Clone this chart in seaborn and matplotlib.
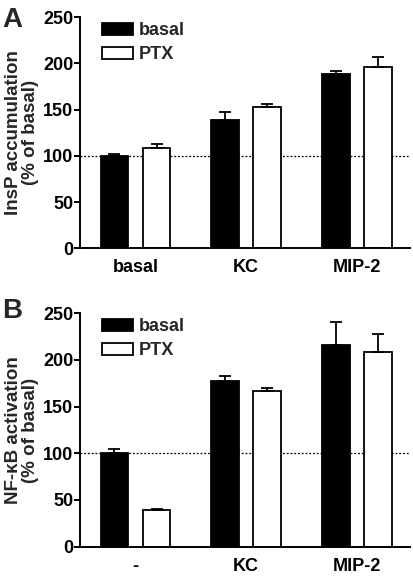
import numpy as np
import pandas as pd
import matplotlib
matplotlib.use("Agg")
import matplotlib.pyplot as plt
import seaborn as sns

sns.set_theme(style="ticks")
plt.rcParams['font.family'] = ['Liberation Sans', 'DejaVu Sans']
plt.rcParams['font.weight'] = 'bold'

# data
groups = ["basal", "PTX"]

cats_a = ["basal", "KC", "MIP-2"]
insp_basal = [100, 139, 189]
insp_ptx = [109, 153, 196]
insp_basal_sem = [1.5, 8.5, 2.7]
insp_ptx_sem = [4.0, 3.5, 11.5]

cats_b = ["-", "KC", "MIP-2"]
nfkb_basal = [100, 178, 216]
nfkb_ptx = [39, 167, 209]
nfkb_basal_sem = [5.0, 5.0, 25.0]
nfkb_ptx_sem = [1.2, 3.0, 18.5]


def make_df(cats, v1, v2):
    return pd.DataFrame({
        "cat": cats * 2,
        "grp": [groups[0]] * len(cats) + [groups[1]] * len(cats),
        "val": list(v1) + list(v2),
    })


def draw(ax, cats, v1, v2, e1, e2, ylabel, letter_y, letter):
    df = make_df(cats, v1, v2)
    sns.barplot(data=df, x="cat", y="val", hue="grp", order=cats,
                hue_order=groups, palette=["black", "white"],
                edgecolor="black", linewidth=1.3, width=0.76, gap=0.34,
                errorbar=None, ax=ax)
    # upward-only error bars
    for cont, errs in zip(ax.containers, [e1, e2]):
        for bar, e in zip(cont, errs):
            xc = bar.get_x() + bar.get_width() / 2
            h = bar.get_height()
            ax.errorbar(xc, h, yerr=[[0], [e]], fmt="none", ecolor="black",
                        elinewidth=1.3, capsize=4, capthick=1.3, zorder=1)
    ax.axhline(100, color="black", linestyle=(0, (1.5, 1.5)), linewidth=0.9, zorder=0)
    ax.set_xlim(-0.5, 2.48)
    ax.set_ylim(0, 250)
    ax.set_yticks([0, 50, 100, 150, 200, 250])
    ax.set_xlabel("")
    ax.set_ylabel(ylabel, fontsize=13.5, fontweight="bold", labelpad=3, linespacing=1.0)
    sns.despine(ax=ax)
    for s in ["left", "bottom"]:
        ax.spines[s].set_linewidth(1.4)
        ax.spines[s].set_color("black")
    ax.tick_params(axis="y", length=4, width=1.4, pad=1, labelsize=13, colors="black")
    ax.tick_params(axis="x", length=0, pad=8, labelsize=13, colors="black")
    for t in ax.get_xticklabels() + ax.get_yticklabels():
        t.set_fontweight("bold")
    leg = ax.legend(loc="upper left", bbox_to_anchor=(0.045, 1.01), frameon=False,
                    fontsize=13, handlelength=1.7, handleheight=0.7,
                    handletextpad=0.35, labelspacing=0.4, borderaxespad=0)
    for t in leg.get_texts():
        t.set_fontweight("bold")
    for h in leg.legend_handles:
        h.set_linewidth(1.3)
    ax.figure.text(0.005, letter_y, letter, fontsize=20, fontweight="bold",
                   va="top", ha="left")


fig = plt.figure(figsize=(4.13, 5.76), dpi=100)
ax1 = fig.add_axes([0.194, 0.569, 0.799, 0.401])
ax2 = fig.add_axes([0.194, 0.051, 0.799, 0.405])

draw(ax1, cats_a, insp_basal, insp_ptx, insp_basal_sem, insp_ptx_sem,
     "InsP accumulation\n(% of basal)", 0.988, "A")
draw(ax2, cats_b, nfkb_basal, nfkb_ptx, nfkb_basal_sem, nfkb_ptx_sem,
     "NF-\u03baB activation\n(% of basal)", 0.482, "B")

fig.savefig("out.png", dpi=100)
